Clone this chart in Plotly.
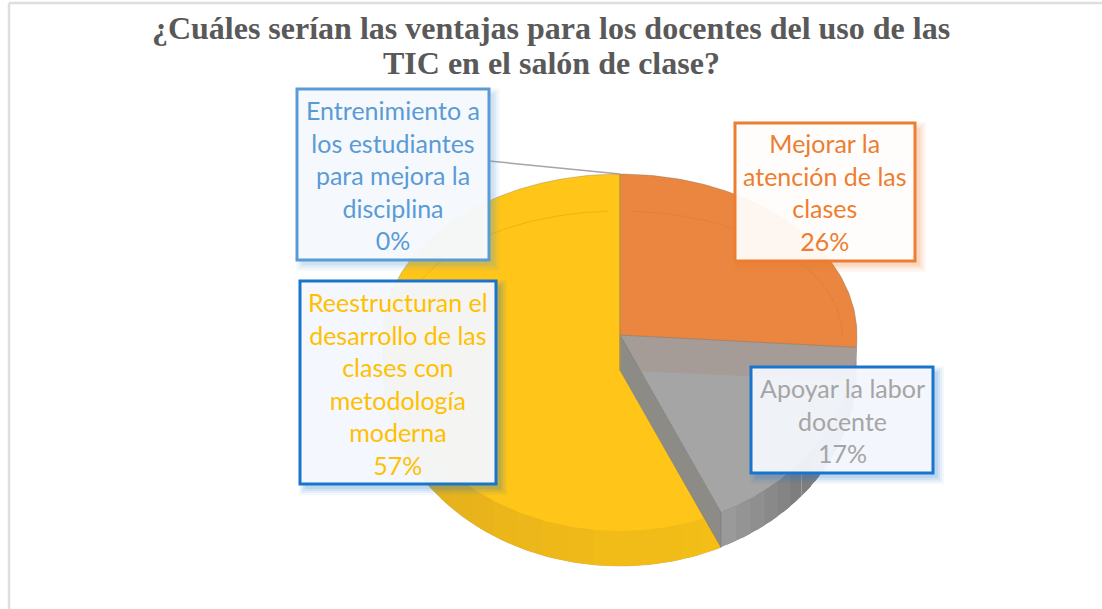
import math
import plotly.graph_objects as go

# ---- data ----
title_lines = ["¿Cuáles serían las ventajas para los docentes del uso de las",
               "TIC en el salón de clase?"]
categories = ["Mejorar la atención de las clases", "Apoyar la labor docente",
              "Reestructuran el desarrollo de las clases con metodología moderna",
              "Entrenimiento a los estudiantes para mejora la disciplina"]
values = [26, 17, 57, 0]
label_lines = [["Mejorar la", "atención de las", "clases"],
               ["Apoyar la labor", "docente"],
               ["Reestructuran el", "desarrollo de las", "clases con", "metodología", "moderna"],
               ["Entrenimiento a", "los estudiantes", "para mejora la", "disciplina"]]

# ---- style and projection of the tilted pie (pixel-mapped axes) ----
CX, CY, RX, R_FAR, R_NEAR, DEPTH = 620, 335, 237, 161, 196, 35
ORANGE, GREY, YELLOW = "#EA8640", "#A5A5A5", "#FFC518"
text_colors = ["#ED7D31", "#A5A5A5", "#FFC000", "#5B9BD5"]
border_colors = ["#ED7D31", "#1874CD", "#1874CD", "#5B9BD5"]
fills = ["rgba(255,255,255,0.93)", "rgba(247,249,253,0.93)",
         "rgba(247,249,253,0.95)", "rgba(247,250,253,0.96)"]
boxes = [(735, 123, 915, 261), (751, 367, 933, 473), (300, 281, 496, 484), (297, 89, 489, 260)]
text_y = [192, 420, 383, 175]
TITLE_SIZE = 32


def point(deg, dz=0, k=1.0):
    t = math.radians(deg)
    c = math.cos(t)
    r = R_FAR if c >= 0 else R_NEAR
    return CX + k * RX * math.sin(t), CY - k * r * c + dz


def arc(a, b, dz=0, k=1.0):
    n = max(2, int(abs(b - a)) + 1)
    pts = [point(a + (b - a) * i / (n - 1), dz, k) for i in range(n)]
    return [p[0] for p in pts], [p[1] for p in pts]


def mix(c1, c2, f):
    a = [int(c1[i:i + 2], 16) for i in (1, 3, 5)]
    b = [int(c2[i:i + 2], 16) for i in (1, 3, 5)]
    return "#" + "".join(f"{round(p + (q - p) * f):02X}" for p, q in zip(a, b))


total = sum(values)
a1 = 360 * values[0] / total
a2 = a1 + 360 * values[1] / total
a3 = 360.0

fig = go.Figure()


def poly(xs, ys, color, name, line="rgba(90,90,90,0.35)"):
    fig.add_trace(go.Scatter(x=xs, y=ys, mode="lines", fill="toself", fillcolor=color,
                             line=dict(color=line, width=0.8), name=name,
                             hoverinfo="name", showlegend=False))


def strip(a, b, color, name):
    x1, y1 = arc(a, b)
    x2, y2 = arc(b, a, DEPTH)
    poly(x1 + x2, y1 + y2, color, name, line="rgba(0,0,0,0)")


def graded_strip(a, b, c1, c2, name, steps=14):
    # each step runs on under the next one, so no seam shows between them
    for i in range(steps):
        s = a + (b - a) * i / steps
        e = a + (b - a) * min(steps, i + 1.6) / steps
        strip(s, e, mix(c1, c2, i / (steps - 1)), name)


# yellow silhouette (seen one depth lower on its cut edge) and its rim
xo, yo = arc(a2, 270, DEPTH)
xt, yt = arc(270, a3)
poly([CX] + xo + xt + [CX], [CY + DEPTH] + yo + yt + [CY + DEPTH], YELLOW, categories[2])
graded_strip(a2, 180, "#F4BE17", "#F1BB18", categories[2], 5)
graded_strip(180, 270, "#F1BB18", "#DCAA20", categories[2])

# grey rim, face, band and cut wall
graded_strip(a1, 130, "#8F8F8F", "#7E7E7E", categories[1], 10)
graded_strip(130, a2, "#7E7E7E", "#9A9A9A", categories[1], 6)
xg, yg = arc(a1, a2)
poly([CX] + xg + [CX], [CY] + yg + [CY], GREY, categories[1])
xe, ye = point(a1)
poly([CX, xe, xe - 3, CX, CX], [CY, ye, ye + DEPTH - 2, CY + DEPTH, CY], "#A59C97", categories[0],
     line="#A59C97")
xw, yw = point(a2)
poly([CX, xw, xw, CX, CX], [CY, yw, yw + DEPTH, CY + DEPTH, CY], "#8D8B85", categories[1])

# orange face
xa, ya = arc(0, a1)
poly([CX] + xa + [CX], [CY] + ya + [CY], ORANGE, categories[0])

# faint bevel on the top faces
for a, b in ((3, a1 - 3), (285, 357)):
    xi, yi = arc(a, b, 0, 1.0)
    xi = [CX + (x - CX) * 0.937 for x in xi]
    yi = [CY + (y - CY) * 0.77 for y in yi]
    fig.add_trace(go.Scatter(x=xi, y=yi, mode="lines", hoverinfo="skip", showlegend=False,
                             line=dict(color="rgba(190,110,20,0.22)", width=1)))

# orange/yellow seam
xs0, ys0 = point(0)
fig.add_trace(go.Scatter(x=[CX, CX], y=[ys0, CY + DEPTH], mode="lines", hoverinfo="skip",
                         showlegend=False, line=dict(color="#C29A35", width=1)))

# leader line to the 0 % label
box0 = boxes[3]
fig.add_trace(go.Scatter(x=[box0[2], xs0], y=[161, ys0], mode="lines", hoverinfo="skip",
                         showlegend=False, line=dict(color="#A5A5A5", width=1.5)))

shapes = [
    dict(type="line", xref="x", yref="y", x0=9, x1=9, y0=3, y1=609,
         line=dict(color="#DEDEDE", width=2.5)),
    dict(type="line", xref="x", yref="y", x0=9, x1=1102, y0=3, y1=3,
         line=dict(color="#DEDEDE", width=2.5)),
]
annotations = [dict(xref="x", yref="y", x=551, y=63, showarrow=False, yanchor="middle",
                    text=f"<b>{title_lines[1]}</b>",
                    font=dict(family="Liberation Serif", size=TITLE_SIZE, color="#595959"))]


def rgba(hex_color, alpha):
    r, g, b = (int(hex_color[i:i + 2], 16) for i in (1, 3, 5))
    return f"rgba({r},{g},{b},{alpha})"


for i, (lines, v) in enumerate(zip(label_lines, values)):
    x0, y0, x1, y1 = boxes[i]
    for grow, alpha in ((6, 0.05), (4, 0.07), (2, 0.09), (0, 0.11)):
        shapes.append(dict(type="rect", xref="x", yref="y",
                           x0=x0 + 5 - grow, x1=x1 + 5 + grow, y0=y0 + 5 - grow, y1=y1 + 5 + grow,
                           fillcolor=rgba(border_colors[i], alpha), line=dict(width=0)))
    shapes.append(dict(type="rect", xref="x", yref="y", x0=x0, x1=x1, y0=y0, y1=y1,
                       fillcolor=fills[i], line=dict(color=border_colors[i], width=3)))
    annotations.append(dict(xref="x", yref="y", x=(x0 + x1) / 2, y=text_y[i], showarrow=False,
                            text="<br>".join(lines + [f"{v}%"]), align="center",
                            yanchor="middle", xanchor="center",
                            font=dict(family="Lato", size=25, color=text_colors[i])))

fig.update_layout(
    width=1102, height=609, margin=dict(l=0, r=0, t=0, b=0),
    paper_bgcolor="white", plot_bgcolor="white", showlegend=False,
    title=dict(text=f"<b>{title_lines[0]}</b>", x=0.5, xanchor="center", y=1 - 28 / 609,
               yanchor="middle",
               font=dict(family="Liberation Serif", size=TITLE_SIZE, color="#595959")),
    xaxis=dict(range=[0, 1102], visible=False, fixedrange=True),
    yaxis=dict(range=[609, 0], visible=False, fixedrange=True),
    shapes=shapes, annotations=annotations,
)
fig.write_html("out.html", config={"displayModeBar": False},
               post_script="document.body.style.margin='0';")
